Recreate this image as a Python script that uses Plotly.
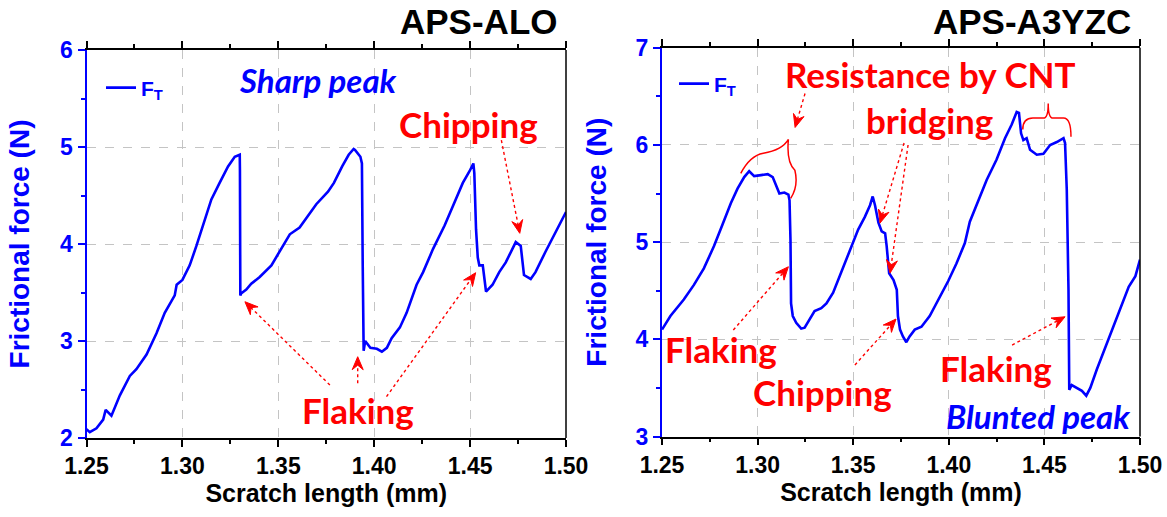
import math
import plotly.graph_objects as go

# ---------------- data ----------------
alo_x = [1.2500, 1.2517, 1.2552, 1.2587, 1.2600, 1.2630, 1.2674, 1.2726, 1.2760, 1.2813,
         1.2865, 1.2908, 1.2960, 1.2970, 1.3000, 1.3038, 1.3073, 1.3116, 1.3151, 1.3194,
         1.3238, 1.3273, 1.3299, 1.3300, 1.3302, 1.3306, 1.3333, 1.3359, 1.3403, 1.3464,
         1.3507, 1.3560, 1.3611, 1.3663, 1.3698, 1.3759, 1.3790, 1.3833, 1.3867, 1.3893,
         1.3900, 1.3928, 1.3936, 1.3940, 1.3945, 1.3953, 1.3980, 1.4014, 1.4040, 1.4066,
         1.4091, 1.4134, 1.4169, 1.4221, 1.4255, 1.4307, 1.4367, 1.4410, 1.4462, 1.4497,
         1.4517, 1.4522, 1.4531, 1.4540, 1.4548, 1.4566, 1.4583, 1.4617, 1.4652, 1.4686,
         1.4712, 1.4738, 1.4764, 1.4772, 1.4781, 1.4816, 1.4841, 1.4893, 1.4945, 1.5000]
alo_y = [2.09, 2.06, 2.10, 2.19, 2.29, 2.23, 2.44, 2.64, 2.71, 2.86,
         3.08, 3.29, 3.47, 3.58, 3.63, 3.78, 3.98, 4.25, 4.46, 4.63,
         4.80, 4.90, 4.92, 4.76, 3.47, 3.49, 3.53, 3.59, 3.66, 3.78,
         3.93, 4.10, 4.17, 4.32, 4.41, 4.54, 4.63, 4.80, 4.92, 4.98,
         4.97, 4.90, 4.83, 3.81, 2.90, 3.00, 2.93, 2.92, 2.89, 2.93,
         3.03, 3.14, 3.29, 3.58, 3.71, 3.95, 4.19, 4.39, 4.63, 4.75,
         4.83, 4.73, 4.15, 3.86, 3.78, 3.78, 3.51, 3.58, 3.71, 3.81,
         3.92, 4.02, 3.98, 3.83, 3.68, 3.64, 3.71, 3.92, 4.12, 4.33]

yzc_x = [1.2500, 1.2544, 1.2614, 1.2667, 1.2719, 1.2772, 1.2816, 1.2860, 1.2895, 1.2930,
         1.2956, 1.2982, 1.3018, 1.3053, 1.3079, 1.3096, 1.3114, 1.3140, 1.3161, 1.3167,
         1.3172, 1.3175, 1.3184, 1.3202, 1.3228, 1.3246, 1.3272, 1.3298, 1.3333, 1.3360,
         1.3395, 1.3430, 1.3456, 1.3491, 1.3526, 1.3561, 1.3588, 1.3602, 1.3614, 1.3632,
         1.3649, 1.3667, 1.3675, 1.3688, 1.3711, 1.3728, 1.3734, 1.3745, 1.3760, 1.3778,
         1.3795, 1.3822, 1.3857, 1.3900, 1.3953, 1.3997, 1.4040, 1.4084, 1.4110, 1.4154,
         1.4198, 1.4250, 1.4294, 1.4329, 1.4355, 1.4367, 1.4378, 1.4390, 1.4407, 1.4425,
         1.4460, 1.4495, 1.4530, 1.4565, 1.4600, 1.4608, 1.4617, 1.4626, 1.4630, 1.4643,
         1.4669, 1.4696, 1.4719, 1.4740, 1.4774, 1.4818, 1.4862, 1.4906, 1.4941, 1.4976,
         1.5000]
yzc_y = [4.10, 4.24, 4.41, 4.56, 4.73, 4.96, 5.18, 5.40, 5.55, 5.67,
         5.73, 5.68, 5.69, 5.70, 5.67, 5.59, 5.50, 5.51, 5.49, 5.43,
         5.02, 4.37, 4.24, 4.17, 4.11, 4.12, 4.20, 4.29, 4.32, 4.37,
         4.48, 4.65, 4.77, 4.96, 5.13, 5.26, 5.38, 5.47, 5.38, 5.20,
         5.11, 5.09, 4.96, 4.68, 4.61, 4.51, 4.24, 4.10, 4.03, 3.97,
         4.03, 4.10, 4.13, 4.24, 4.44, 4.60, 4.78, 4.99, 5.21, 5.43,
         5.64, 5.85, 6.07, 6.21, 6.34, 6.33, 6.12, 6.05, 6.07, 5.95,
         5.90, 5.91, 6.00, 6.03, 6.07, 6.02, 5.54, 4.51, 3.48, 3.53,
         3.50, 3.47, 3.42, 3.50, 3.69, 3.91, 4.13, 4.37, 4.54, 4.65,
         4.82]

x_ticks = [1.25, 1.30, 1.35, 1.40, 1.45, 1.50]
x_tick_text = ["1.25", "1.30", "1.35", "1.40", "1.45", "1.50"]
alo_y_ticks = [2, 3, 4, 5, 6]
yzc_y_ticks = [3, 4, 5, 6, 7]

panel_titles = ["APS-ALO", "APS-A3YZC"]
x_title = "Scratch length (mm)"
y_title = "Frictional force (N)"
series_name = "F<sub>T</sub>"

BLUE = "#0000FF"
RED = "#FF0000"
AX_FONT = "Arial, 'Liberation Sans', sans-serif"
NOTE_FONT = "Lato, 'Open Sans', sans-serif"

W, H = 1167, 517


def fx(px):
    return px / W


def fy(py):
    return 1 - py / H


fig = go.Figure()
fig.add_trace(go.Scatter(x=alo_x, y=alo_y, mode="lines", name=series_name,
                         line=dict(color=BLUE, width=2.6), xaxis="x", yaxis="y",
                         legend="legend"))
fig.add_trace(go.Scatter(x=yzc_x, y=yzc_y, mode="lines", name=series_name,
                         line=dict(color=BLUE, width=2.6), xaxis="x2", yaxis="y2",
                         legend="legend2"))

P1 = dict(l=86.5, r=566, t=50, b=438, xr=[1.25, 1.50], yr=[2, 6])
P2 = dict(l=662, r=1140, t=47.8, b=436.5, xr=[1.25, 1.50], yr=[3, 7])


def xaxis_style(p, anchor):
    return dict(domain=[fx(p["l"]), fx(p["r"])], anchor=anchor, range=p["xr"],
                automargin=False,
                title=dict(text=x_title, standoff=4,
                           font=dict(family=AX_FONT, size=25, color="black",
                                     weight="bold")),
                tickmode="array", tickvals=x_ticks, ticktext=x_tick_text,
                ticks="outside", ticklen=7, tickwidth=1.5, tickcolor="black",
                minor=dict(ticks="outside", ticklen=4, tickwidth=1.5, tickcolor="black",
                           dtick=0.025, showgrid=False),
                showline=True, linecolor="black", linewidth=1.5, mirror="ticks",
                showgrid=True, gridcolor="#c4c4c4", griddash="dash", gridwidth=1,
                zeroline=False,
                tickfont=dict(family=AX_FONT, size=23, color="black", weight="bold"))


def yaxis_style(p, anchor, tv, standoff):
    return dict(domain=[fy(p["b"]), fy(p["t"])], anchor=anchor, range=p["yr"],
                automargin=False,
                title=dict(text=y_title, standoff=standoff,
                           font=dict(family=AX_FONT, size=28, color=BLUE,
                                     weight="bold")),
                tickmode="array", tickvals=tv,
                ticks="outside", ticklen=7, tickwidth=1.5, tickcolor=BLUE,
                minor=dict(ticks="outside", ticklen=4, tickwidth=1.5, tickcolor=BLUE,
                           dtick=0.5, showgrid=False),
                showline=True, linecolor=BLUE, linewidth=2, mirror=False,
                showgrid=True, gridcolor="#c4c4c4", griddash="dash", gridwidth=1,
                zeroline=False,
                tickfont=dict(family=AX_FONT, size=23, color=BLUE, weight="bold"))


fig.update_layout(
    width=W, height=H,
    margin=dict(l=0, r=0, t=0, b=0, autoexpand=False),
    paper_bgcolor="white", plot_bgcolor="white",
    xaxis=xaxis_style(P1, "y"),
    yaxis=yaxis_style(P1, "x", alo_y_ticks, 22),
    xaxis2=xaxis_style(P2, "y2"),
    yaxis2=yaxis_style(P2, "x2", yzc_y_ticks, 21),
    legend=dict(x=fx(101), y=fy(88), xanchor="left", yanchor="middle",
                bgcolor="rgba(0,0,0,0)", itemwidth=30,
                font=dict(family=AX_FONT, size=21, color=BLUE, weight="bold")),
    legend2=dict(x=fx(674), y=fy(84), xanchor="left", yanchor="middle",
                 bgcolor="rgba(0,0,0,0)", itemwidth=30,
                 font=dict(family=AX_FONT, size=21, color=BLUE, weight="bold")),
    showlegend=True,
)

shapes = []
annotations = []

# right frame edge (black) for each panel
for xr, yr in (("x domain", "y domain"), ("x2 domain", "y2 domain")):
    shapes.append(dict(type="line", xref=xr, yref=yr, x0=1, x1=1, y0=0, y1=1,
                       line=dict(color="black", width=1.5), layer="above"))


def arrow(p, xr, yr, tail, head, L=13.0, hw=5.5):
    kx = (p["r"] - p["l"]) / (p["xr"][1] - p["xr"][0])
    ky = (p["b"] - p["t"]) / (p["yr"][1] - p["yr"][0])
    du = (tail[0] - head[0]) * kx
    dv = (tail[1] - head[1]) * ky
    n = math.hypot(du, dv)
    du, dv = du / n, dv / n
    pu, pv = -dv, du
    hu, hv = head[0] * kx, head[1] * ky

    def pt(a, b):
        return (hu + a * du + b * pu) / kx, (hv + a * dv + b * pv) / ky

    notch = pt(0.65 * L, 0)
    b1 = pt(L, hw)
    b2 = pt(L, -hw)
    shapes.append(dict(type="line", xref=xr, yref=yr,
                       x0=tail[0], y0=tail[1], x1=notch[0], y1=notch[1],
                       line=dict(color=RED, width=1.4, dash="dot")))
    path = "M {:.6f},{:.6f} L {:.6f},{:.6f} L {:.6f},{:.6f} L {:.6f},{:.6f} Z".format(
        head[0], head[1], b1[0], b1[1], notch[0], notch[1], b2[0], b2[1])
    shapes.append(dict(type="path", xref=xr, yref=yr, path=path,
                       fillcolor=RED, line=dict(color=RED, width=1)))


def note(xr, yr, x, y, text, size=35, color=RED, italic=False):
    annotations.append(dict(xref=xr, yref=yr, x=x, y=y, text=text, showarrow=False,
                            xanchor="center", yanchor="middle",
                            font=dict(family=NOTE_FONT, size=size, color=color,
                                      weight="bold",
                                      style="italic" if italic else "normal")))


# ---- left panel notes ----
note("x", "y", 1.3705, 5.69, "Sharp peak", size=33, color=BLUE, italic=True)
note("x", "y", 1.4493, 5.24, "Chipping")
note("x", "y", 1.3916, 2.29, "Flaking")
arrow(P1, "x", "y", (1.4663, 5.07), (1.4759, 4.11))
arrow(P1, "x", "y", (1.3769, 2.546), (1.3326, 3.405))
arrow(P1, "x", "y", (1.3914, 2.564), (1.3914, 2.838))
arrow(P1, "x", "y", (1.4064, 2.426), (1.4529, 3.704))

# ---- right panel notes ----
note("x2", "y2", 1.3902, 6.73, "Resistance by CNT")
note("x2", "y2", 1.3897, 6.26, "bridging")
note("x2", "y2", 1.2809, 3.90, "Flaking")
note("x2", "y2", 1.3342, 3.458, "Chipping")
note("x2", "y2", 1.4247, 3.705, "Flaking")
note("x2", "y2", 1.4466, 3.21, "Blunted peak", size=33, color=BLUE, italic=True)
arrow(P2, "x2", "y2", (1.3248, 6.53), (1.3196, 6.18))
arrow(P2, "x2", "y2", (1.3766, 6.02), (1.3640, 5.196))
arrow(P2, "x2", "y2", (1.3787, 6.00), (1.3693, 4.682))
arrow(P2, "x2", "y2", (1.2873, 4.096), (1.3161, 4.747))
arrow(P2, "x2", "y2", (1.3509, 3.736), (1.3724, 4.209))
arrow(P2, "x2", "y2", (1.4331, 3.941), (1.4608, 4.232))

# braces (curly brackets) in the right panel
shapes.append(dict(type="path", xref="x2", yref="y2",
                   path="M 1.2912,5.708 Q 1.2960,5.89 1.3030,5.915 "
                        "Q 1.3130,5.95 1.3161,6.058 "
                        "Q 1.3150,5.82 1.3195,5.74 "
                        "Q 1.3215,5.58 1.3173,5.451",
                   line=dict(color=RED, width=1.5)))
shapes.append(dict(type="path", xref="x2", yref="y2",
                   path="M 1.4387,6.160 Q 1.4387,6.277 1.4440,6.277 "
                        "L 1.4495,6.277 Q 1.4520,6.277 1.4520,6.428 "
                        "Q 1.4520,6.277 1.4545,6.277 "
                        "L 1.4600,6.277 Q 1.4639,6.277 1.4639,6.084",
                   line=dict(color=RED, width=1.5)))

# panel titles
annotations.append(dict(xref="paper", yref="paper", x=fx(560), y=fy(21),
                        text=panel_titles[0], showarrow=False, xanchor="right",
                        yanchor="middle",
                        font=dict(family=AX_FONT, size=35, color="black", weight="bold")))
annotations.append(dict(xref="paper", yref="paper", x=fx(1133), y=fy(21),
                        text=panel_titles[1], showarrow=False, xanchor="right",
                        yanchor="middle",
                        font=dict(family=AX_FONT, size=35, color="black", weight="bold")))

fig.update_layout(shapes=shapes, annotations=annotations)

# remove the browser's default 8px page margin so the figure fills the window
fig.write_html("out.html", config={"displayModeBar": False},
               post_script="document.body.style.margin='0';")
